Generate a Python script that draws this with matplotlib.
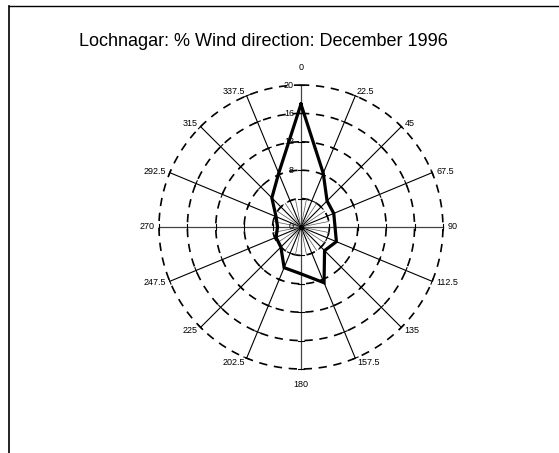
import numpy as np
import matplotlib
matplotlib.use('Agg')
import matplotlib.pyplot as plt
from matplotlib.lines import Line2D

plt.rcParams['font.family'] = ['Liberation Sans', 'DejaVu Sans']

# Datos: direcciones (grados, horario desde el norte) y % de viento
direcciones = [0, 22.5, 45, 67.5, 90, 112.5, 135, 157.5,
               180, 202.5, 225, 247.5, 270, 292.5, 315, 337.5]
porcentaje = [17.3, 8.2, 5.2, 5.0, 4.8, 5.4, 4.7, 8.5,
              6.6, 6.2, 4.0, 3.8, 3.3, 3.8, 5.8, 8.2]
anillos = [4, 8, 12, 16, 20]
etiquetas_anillo = [0, 8, 12, 16, 20]
titulo = 'Lochnagar: % Wind direction: December 1996'

fig = plt.figure(figsize=(5.59, 4.53), dpi=100)
ax = fig.add_axes([0.2844, 0.1854, 0.508, 0.627], projection='polar')
ax.set_theta_zero_location('N')
ax.set_theta_direction(-1)
ax.set_ylim(0, 20)
ax.grid(False)
ax.set_xticks([])
ax.set_yticks([])
ax.spines['polar'].set_visible(False)
ax.patch.set_alpha(0)

th = np.radians(direcciones)
rr = max(anillos)

# anillos punteados
tt = np.linspace(0, 2*np.pi, 400)
for r in anillos:
    ax.plot(tt, np.full_like(tt, r), color='black', lw=1.2,
            dashes=(5, 4), zorder=2, clip_on=False)

# radios
for d, t in zip(direcciones, th):
    card = d % 90 == 0
    ax.plot([t, t], [0, rr], color='#444444' if card else 'black',
            lw=0.9 if card else 0.8, zorder=2, clip_on=False)
    # marcas perpendiculares en cada anillo
    for r in anillos:
        dt = 3.0/(r*7.1)
        ax.plot([t-dt, t+dt], [r, r], color='black', lw=0.8, zorder=2,
                clip_on=False)
    # etiqueta de direccion
    lab = ('%g' % d)
    if d == 0:
        ax.text(t, rr+2.4, lab, ha='center', va='center', fontsize=6.5)
    elif d == 180:
        ax.text(t, rr+2.2, lab, ha='center', va='center', fontsize=6.5)
    else:
        ha = 'left' if d < 180 else 'right'
        ax.text(t, rr+0.6, lab, ha=ha, va='center', fontsize=6.5)

# radios cortos intermedios cerca del centro
for t in th:
    ax.plot([t+np.pi/16, t+np.pi/16], [0, 4], color='#555555', lw=0.5, zorder=2)

# etiquetas de anillos
for r in etiquetas_anillo:
    ax.annotate(str(r), xy=(0, r), xytext=(-5, 0), textcoords='offset points',
                ha='right', va='center', fontsize=6.5, zorder=3)

# serie de datos
ax.plot(np.append(th, th[0]), porcentaje + porcentaje[:1], color='black',
        lw=2.3, solid_joinstyle='miter', zorder=4)
ax.plot([0], [0], 'o', color='black', ms=3, zorder=5)

fig.text(0.472, 1 - 42/453, titulo, ha='center', va='center', fontsize=13)

# marco de la pagina
fig.add_artist(Line2D([9/559, 9/559], [0, 1-6/453], color='black', lw=1.2))
fig.add_artist(Line2D([9/559, 1], [1-6/453, 1-6/453], color='black', lw=1.0))

fig.savefig('out.png', dpi=100)
